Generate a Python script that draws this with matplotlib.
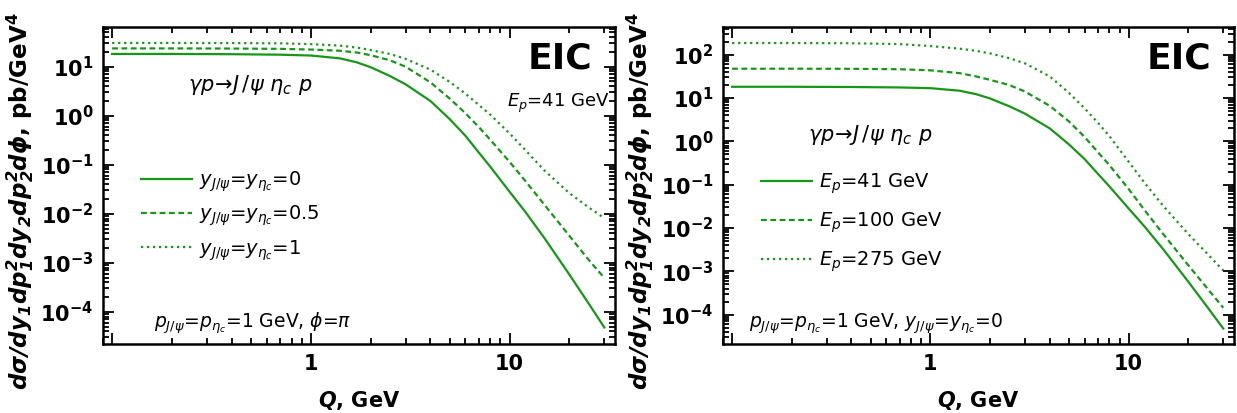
import numpy as np
import matplotlib.pyplot as plt
from matplotlib.ticker import FixedLocator, FixedFormatter, LogLocator, NullFormatter, FuncFormatter

# Q grid, GeV
Q = [0.1, 0.2, 0.4, 0.7, 1, 1.4, 1.7, 2, 2.5, 3, 4, 5, 6, 7, 8, 10, 12, 15, 20, 25, 30]

# log10 of cross section, pb/GeV^4
# left panel: E_p = 41 GeV, different rapidities
lg_y0 = [1.26, 1.26, 1.255, 1.245, 1.228, 1.17, 1.09, 0.99, 0.81, 0.64, 0.30, -0.07,
         -0.41, -0.75, -1.04, -1.55, -1.96, -2.50, -3.24, -3.83, -4.32]
lg_y05 = [1.373, 1.373, 1.37, 1.364, 1.35, 1.325, 1.29, 1.235, 1.13, 1.00, 0.68, 0.35,
          0.05, -0.23, -0.49, -0.94, -1.33, -1.82, -2.45, -2.94, -3.31]
lg_y1 = [1.484, 1.484, 1.482, 1.477, 1.46, 1.43, 1.39, 1.34, 1.26, 1.16, 0.94, 0.69,
         0.45, 0.22, 0.02, -0.36, -0.70, -1.12, -1.58, -1.87, -2.09]
# right panel: y = 0, different proton energies
lg_e41 = lg_y0
lg_e100 = [1.677, 1.677, 1.675, 1.665, 1.64, 1.575, 1.50, 1.42, 1.30, 1.15, 0.82, 0.46,
           0.10, -0.25, -0.55, -1.10, -1.58, -2.15, -2.86, -3.40, -3.84]
lg_e275 = [2.27, 2.27, 2.265, 2.245, 2.20, 2.14, 2.09, 2.03, 1.92, 1.80, 1.50, 1.12,
           0.76, 0.43, 0.12, -0.47, -0.95, -1.50, -2.14, -2.60, -2.98]

left_labels = [r'$y_{J/\psi}$=$y_{\eta_c}$=0', r'$y_{J/\psi}$=$y_{\eta_c}$=0.5',
               r'$y_{J/\psi}$=$y_{\eta_c}$=1']
right_labels = [r'$E_p$=41 GeV', r'$E_p$=100 GeV', r'$E_p$=275 GeV']

green = '#169816'
styles = ['-', (0, (2.6, 1.6)), (0, (1, 1.7))]

fig = plt.figure(figsize=(12.37, 4.13), dpi=100)
ax1 = fig.add_axes([0.0833, 0.167, 0.414, 0.768])
ax2 = fig.add_axes([0.5845, 0.167, 0.4131, 0.768])


def style(ax, ylim):
    ax.set_xscale('log')
    ax.set_yscale('log')
    ax.set_xlim(0.09, 34)
    ax.set_ylim(*ylim)
    ax.xaxis.set_major_locator(FixedLocator([0.1, 1, 10]))
    ax.xaxis.set_major_formatter(FixedFormatter(['', '1', '10']))
    ax.xaxis.set_minor_locator(LogLocator(base=10, subs=range(2, 10), numticks=20))
    ax.xaxis.set_minor_formatter(NullFormatter())
    ax.yaxis.set_major_locator(LogLocator(base=10, numticks=20))
    ax.yaxis.set_minor_locator(LogLocator(base=10, subs=range(2, 10), numticks=20))
    ax.yaxis.set_minor_formatter(NullFormatter())
    ax.yaxis.set_major_formatter(FuncFormatter(
        lambda v, p: r'$\mathbf{10^{%d}}$' % round(np.log10(v))))
    ax.tick_params(which='both', direction='in', top=True, right=True, width=1.3)
    ax.tick_params(which='major', length=8, labelsize=15, pad=7)
    ax.tick_params(which='minor', length=4)
    for s in ax.spines.values():
        s.set_linewidth(1.8)
    for lab in ax.get_xticklabels():
        lab.set_fontweight('bold')
    ax.set_xlabel(r'$\mathbfit{Q}$, GeV', fontsize=15, fontweight='bold')
    ax.xaxis.set_label_coords(0.5, -0.142)
    ax.set_ylabel(r'$\mathbfit{d\sigma/dy_1dp_1^2dy_2dp_2^2d\phi}$, pb/GeV$^\mathbf{4}$',
                  fontsize=16.6, fontweight='bold')
    ax.yaxis.set_label_coords(-0.131, 0.45)
    ax.text(0.955, 0.87, 'EIC', transform=ax.transAxes, ha='right', va='baseline',
            fontsize=26, fontweight='bold')


style(ax1, (2.2e-5, 65))
style(ax2, (2.1e-5, 440))

for lg, lab, ls in zip([lg_y0, lg_y05, lg_y1], left_labels, styles):
    ax1.plot(Q, 10 ** np.array(lg), color=green, ls=ls, lw=1.6, label=lab)
for lg, lab, ls in zip([lg_e41, lg_e100, lg_e275], right_labels, styles):
    ax2.plot(Q, 10 ** np.array(lg), color=green, ls=ls, lw=1.6, label=lab)

leg_kw = dict(frameon=False, fontsize=14, handlelength=2.6, handletextpad=0.4)
ax1.legend(loc='upper left', bbox_to_anchor=(0.04, 0.605), labelspacing=0.5, **leg_kw)
ax2.legend(loc='upper left', bbox_to_anchor=(0.04, 0.6), labelspacing=0.75, **leg_kw)

react = r'$\gamma p\!\rightarrow\! J\,/\psi\ \eta_c\ p$'
ax1.text(0.166, 0.817, react, transform=ax1.transAxes, fontsize=15, va='center')
ax2.text(0.166, 0.659, react, transform=ax2.transAxes, fontsize=15, va='center')
ax1.text(0.99, 0.76, r'$E_p$=41 GeV', transform=ax1.transAxes, fontsize=13,
         ha='right', va='center')
ax1.text(0.1, 0.065, r'$p_{J/\psi}$=$p_{\eta_c}$=1 GeV, $\phi$=$\pi$',
         transform=ax1.transAxes, fontsize=13.5, va='center')
ax2.text(0.05, 0.065, r'$p_{J/\psi}$=$p_{\eta_c}$=1 GeV, $y_{J/\psi}$=$y_{\eta_c}$=0',
         transform=ax2.transAxes, fontsize=13.5, va='center')

fig.savefig('out.png', dpi=100)
